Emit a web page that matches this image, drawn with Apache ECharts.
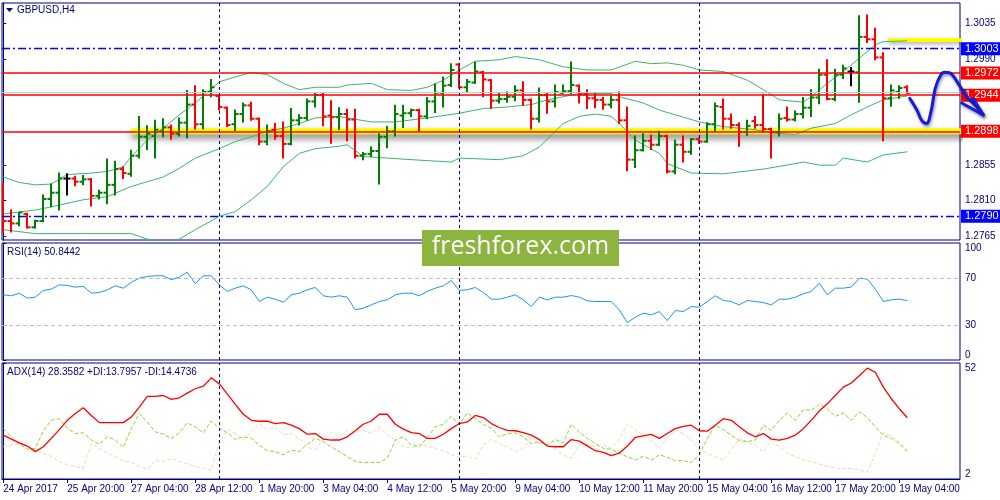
<!DOCTYPE html>
<html><head><meta charset="utf-8">
<script src="https://cdn.jsdelivr.net/npm/echarts@6/dist/echarts.min.js"></script>
<style>html,body{margin:0;padding:0;background:#fff}#chart{width:1000px;height:500px}</style>
</head><body><div id="chart"></div>
<script>
// ---------- DATA ----------
const tickBars = [0,8,16,24,32,40,48,56,64,72,80,88,96,104,112];
const tickLabels = ['24 Apr 2017','25 Apr 20:00','27 Apr 04:00','28 Apr 12:00','1 May 20:00','3 May 04:00','4 May 12:00','5 May 20:00','9 May 04:00','10 May 12:00','11 May 20:00','15 May 04:00','16 May 12:00','17 May 20:00','19 May 04:00'];
const weekSeparators = [27, 57, 87];

const barOpen = [
1.2815,1.2784,1.2781,1.2793,1.2776,1.2784,1.2812,1.2820,1.2838,1.2838,
1.2834,1.2837,1.2816,1.2820,1.2830,1.2850,1.2844,1.2867,1.2891,1.2892,
1.2898,1.2903,1.2895,1.2909,1.2932,1.2907,1.2948,1.2943,1.2928,1.2907,
1.2920,1.2931,1.2914,1.2885,1.2900,1.2892,1.2882,1.2912,1.2915,1.2936,
1.2944,1.2918,1.2916,1.2920,1.2913,1.2867,1.2869,1.2873,1.2891,1.2898,
1.2918,1.2921,1.2925,1.2917,1.2936,1.2947,1.2957,1.2983,1.2954,1.2960,
1.2973,1.2963,1.2937,1.2939,1.2942,1.2950,1.2938,1.2914,1.2944,1.2936,
1.2947,1.2949,1.2956,1.2945,1.2940,1.2938,1.2932,1.2938,1.2912,1.2862,
1.2874,1.2886,1.2881,1.2892,1.2847,1.2881,1.2872,1.2888,1.2885,1.2907,
1.2929,1.2914,1.2906,1.2897,1.2911,1.2906,1.2901,1.2897,1.2915,1.2913,
1.2920,1.2928,1.2941,1.2970,1.2939,1.2970,1.2974,1.2973,1.3018,1.3015,
1.2992,1.2940,1.2948,1.2954];
const barHigh = [
1.2832,1.2798,1.2795,1.2794,1.2785,1.2817,1.2831,1.2845,1.2844,1.2841,
1.2842,1.2838,1.2823,1.2863,1.2860,1.2853,1.2874,1.2917,1.2905,1.2912,
1.2914,1.2906,1.2915,1.2950,1.2956,1.2951,1.2964,1.2944,1.2929,1.2925,
1.2934,1.2935,1.2915,1.2906,1.2908,1.2910,1.2927,1.2919,1.2939,1.2947,
1.2946,1.2937,1.2928,1.2926,1.2926,1.2871,1.2878,1.2895,1.2904,1.2931,
1.2931,1.2926,1.2926,1.2941,1.2958,1.2967,1.2984,1.2984,1.2964,1.2986,
1.2974,1.2964,1.2947,1.2948,1.2956,1.2961,1.2939,1.2953,1.2946,1.2957,
1.2957,1.2986,1.2957,1.2951,1.2946,1.2941,1.2943,1.2948,1.2929,1.2892,
1.2895,1.2893,1.2898,1.2893,1.2887,1.2892,1.2889,1.2890,1.2909,1.2934,
1.2939,1.2920,1.2909,1.2912,1.2917,1.2945,1.2902,1.2920,1.2929,1.2924,
1.2941,1.2951,1.2977,1.2989,1.2977,1.2982,1.2979,1.3045,1.3046,1.3029,
1.2998,1.2957,1.2956,1.2956];
const barLow = [
1.2770,1.2770,1.2778,1.2775,1.2775,1.2783,1.2802,1.2798,1.2817,1.2829,
1.2830,1.2803,1.2812,1.2806,1.2817,1.2838,1.2841,1.2864,1.2875,1.2864,
1.2891,1.2888,1.2892,1.2890,1.2901,1.2901,1.2942,1.2925,1.2904,1.2899,
1.2910,1.2912,1.2881,1.2881,1.2888,1.2864,1.2881,1.2906,1.2912,1.2929,
1.2905,1.2883,1.2900,1.2886,1.2864,1.2862,1.2866,1.2831,1.2877,1.2892,
1.2903,1.2917,1.2898,1.2914,1.2922,1.2929,1.2955,1.2953,1.2948,1.2959,
1.2942,1.2927,1.2934,1.2935,1.2937,1.2931,1.2901,1.2910,1.2921,1.2929,
1.2946,1.2946,1.2934,1.2927,1.2928,1.2926,1.2928,1.2908,1.2848,1.2852,
1.2873,1.2875,1.2880,1.2845,1.2844,1.2859,1.2869,1.2883,1.2884,1.2898,
1.2901,1.2902,1.2879,1.2893,1.2902,1.2897,1.2864,1.2892,1.2911,1.2911,
1.2915,1.2917,1.2933,1.2938,1.2937,1.2965,1.2956,1.2935,1.3011,1.2989,
1.2886,1.2930,1.2940,1.2946];
const barClose = [
1.2784,1.2781,1.2795,1.2776,1.2784,1.2812,1.2820,1.2838,1.2838,1.2834,
1.2837,1.2816,1.2820,1.2830,1.2850,1.2845,1.2867,1.2891,1.2895,1.2900,
1.2903,1.2895,1.2909,1.2932,1.2907,1.2948,1.2954,1.2929,1.2906,1.2920,
1.2931,1.2914,1.2885,1.2898,1.2892,1.2882,1.2912,1.2915,1.2936,1.2944,
1.2917,1.2916,1.2920,1.2913,1.2867,1.2869,1.2873,1.2891,1.2898,1.2920,
1.2921,1.2925,1.2917,1.2936,1.2947,1.2956,1.2976,1.2954,1.2961,1.2974,
1.2964,1.2937,1.2939,1.2942,1.2950,1.2938,1.2914,1.2944,1.2936,1.2948,
1.2949,1.2957,1.2945,1.2940,1.2938,1.2932,1.2938,1.2912,1.2862,1.2874,
1.2886,1.2881,1.2892,1.2847,1.2881,1.2872,1.2888,1.2885,1.2907,1.2930,
1.2914,1.2906,1.2897,1.2905,1.2906,1.2901,1.2897,1.2914,1.2913,1.2920,
1.2928,1.2941,1.2970,1.2939,1.2970,1.2978,1.2974,1.3018,1.3015,1.2992,
1.2940,1.2950,1.2953,1.2947];

const bbUpper = [[0,1.2840],[2,1.2833],[4,1.2830],[6,1.2831],[8,1.2843],[11,1.2845],[13,1.2847],[15,1.2853],[16,1.2866],[18,1.2887],[20,1.2902],[22,1.2919],[24,1.2934],[26,1.2952],[27,1.2961],[29,1.2967],[31,1.2973],[33,1.2970],[35,1.2959],[37,1.2951],[39,1.2954],[42,1.2954],[43,1.2957],[46,1.2959],[48,1.2951],[51,1.2950],[53,1.2954],[55,1.2963],[57,1.2976],[59,1.2987],[62,1.2989],[64,1.2993],[67,1.2989],[70,1.2980],[73,1.2976],[76,1.2976],[79,1.2987],[81,1.2984],[83,1.2985],[85,1.2982],[87,1.2976],[90,1.2974],[93,1.2963],[95,1.2951],[97,1.2938],[100,1.2935],[101,1.2942],[103,1.2959],[105,1.2974],[107,1.2991],[109,1.3008],[110,1.3012],[113,1.3013]];
const bbMiddle = [[0,1.2793],[4,1.2798],[6,1.2802],[10,1.2811],[13,1.2815],[16,1.2828],[18,1.2834],[20,1.2840],[22,1.2851],[24,1.2864],[27,1.2876],[29,1.2885],[31,1.2891],[33,1.2898],[35,1.2902],[37,1.2908],[39,1.2915],[42,1.2917],[43,1.2915],[46,1.2910],[49,1.2910],[53,1.2915],[57,1.2921],[60,1.2927],[63,1.2929],[66,1.2932],[68,1.2938],[70,1.2942],[72,1.2946],[76,1.2946],[77,1.2942],[80,1.2934],[82,1.2925],[84,1.2919],[87,1.2910],[90,1.2904],[94,1.2900],[96,1.2896],[99,1.2894],[101,1.2902],[104,1.2908],[106,1.2919],[108,1.2929],[110,1.2938],[113,1.2943]];
const bbLower = [[0,1.2773],[4,1.2768],[10,1.2768],[16,1.2768],[18,1.2761],[20,1.2757],[22,1.2761],[24,1.2773],[27,1.2790],[29,1.2796],[31,1.2811],[33,1.2828],[35,1.2853],[37,1.2870],[39,1.2876],[42,1.2879],[43,1.2881],[45,1.2866],[48,1.2864],[51,1.2862],[56,1.2859],[57,1.2864],[62,1.2862],[65,1.2867],[67,1.2878],[70,1.2908],[72,1.2917],[74,1.2920],[76,1.2917],[77,1.2908],[79,1.2887],[82,1.2870],[83,1.2857],[84,1.2853],[86,1.2845],[90,1.2844],[95,1.2850],[99,1.2857],[100,1.2859],[102,1.2855],[104,1.2855],[105,1.2864],[108,1.2859],[110,1.2868],[113,1.2872]];

const redLevels = [1.2972, 1.2944, 1.2898];
const blueLevels = [1.3003, 1.2790];
const bidPrice = 1.2948;
const supportBand = [[16, 1.2898], [125, 1.2898]];
const resistanceBand = [[110.6, 1.3014], [125, 1.3014]];
const forecastPath = [[113.3,1.2940],[114.2,1.2925],[114.8,1.2912],[115.4,1.2908],[116.0,1.2925],[116.5,1.2953],[117.2,1.2970],[117.7,1.2973],[118.5,1.2971],[119.6,1.2955],[120.6,1.2940],[121.7,1.2929],[122.5,1.2919]];
const forecastHead = [[119.8,1.2934],[122.5,1.2919],[121.2,1.2940]];
const priceTicks = [1.2765, 1.2810, 1.2855, 1.2990, 1.3035];

const rsi = [
55.7,54.9,57.1,52.9,53.7,59.4,60.6,64.3,63.7,62.3,
62.9,57.1,57.7,60.0,63.4,61.4,66.3,70.0,71.4,72.0,
72.0,68.6,70.9,75.1,65.1,72.0,72.0,64.3,58.6,61.4,
63.4,60.0,50.0,53.7,52.0,49.4,55.7,57.1,60.0,62.0,
54.9,53.7,54.9,53.7,42.9,44.3,47.1,50.0,51.4,55.7,
57.1,57.1,54.9,58.6,61.4,63.4,68.0,59.4,60.0,62.0,
57.7,52.0,52.0,53.7,55.7,51.4,45.7,53.7,51.4,53.7,
53.7,55.1,53.7,50.6,50.0,50.0,50.0,42.9,32.0,36.6,
40.0,38.6,41.4,33.7,42.3,41.4,45.7,45.1,50.0,54.9,
50.9,50.0,47.1,50.9,50.0,49.1,47.1,52.0,52.0,53.7,
56.6,58.6,65.7,55.7,61.4,61.4,62.3,70.0,69.1,60.6,
50.0,51.4,52.0,50.8];
const rsiLevels = [70, 30];

const adx = [
20.9,19.2,17.6,16.2,13.8,15.9,19.5,23.3,27.3,30.2,
32.7,29.4,26.3,26.3,26.3,26.3,28.7,33.0,37.6,37.6,
38.0,36.3,37.0,39.0,40.9,42.0,45.6,43.0,38.7,34.2,
29.9,27.3,26.9,26.9,25.9,26.3,25.2,23.7,21.3,21.6,
19.2,18.8,18.8,20.2,22.8,25.6,27.0,29.9,29.9,25.6,
23.5,22.0,21.6,19.5,19.5,21.3,23.7,25.9,26.6,29.4,
28.5,25.9,24.2,23.0,22.8,22.0,20.9,19.0,16.2,15.9,
15.9,19.0,18.3,16.3,14.2,13.5,12.1,13.1,16.2,19.9,
20.6,21.2,19.5,21.6,23.7,24.7,25.2,22.8,22.6,25.2,
28.0,27.3,24.5,21.9,20.2,21.6,19.2,18.8,19.5,20.9,
23.7,27.3,31.3,34.4,38.0,41.6,43.4,46.5,49.8,48.0,
41.6,36.6,32.3,28.4];
const plusDI = [
23.8,20.2,17.0,14.8,15.2,22.8,27.3,28.0,23.8,21.6,
21.9,18.8,17.0,20.2,18.8,15.6,23.8,30.2,26.6,22.3,
21.3,19.5,21.9,26.2,24.5,21.9,27.0,23.8,22.0,19.0,
20.2,19.5,16.6,14.2,13.8,12.4,14.5,13.8,17.0,19.5,
18.1,15.9,13.8,11.6,9.5,9.1,9.1,9.1,10.9,18.8,
20.2,16.6,15.9,19.9,24.5,25.6,29.0,25.6,30.5,28.0,
25.6,23.8,20.2,21.6,21.9,20.2,17.3,18.1,16.6,19.0,
17.6,25.6,22.3,19.5,17.3,15.2,14.8,13.1,11.6,10.2,
11.9,10.2,12.4,11.4,9.9,9.9,9.1,12.4,19.5,25.2,
23.3,20.9,18.5,18.1,18.8,25.2,23.0,27.3,30.5,27.3,
31.9,31.6,34.2,32.3,29.0,30.5,27.3,30.9,28.5,24.5,
20.9,19.5,17.3,13.8];
const minusDI = [
16.0,16.6,17.3,16.2,14.5,13.1,11.6,9.5,8.1,7.4,
6.6,17.3,15.2,13.1,11.6,9.9,9.1,7.6,6.2,10.2,
9.5,10.9,9.5,8.5,7.4,6.6,5.9,18.1,23.3,21.6,
19.0,22.3,25.9,23.3,24.5,20.9,21.6,19.5,15.9,14.5,
19.0,22.3,20.5,23.0,22.3,23.0,21.6,24.5,20.9,18.8,
16.2,15.2,17.0,16.2,15.2,14.2,12.4,11.4,12.0,10.5,
16.6,19.0,17.3,15.9,13.8,15.2,19.9,17.3,17.0,14.8,
12.4,10.9,16.6,17.0,15.9,16.6,15.2,19.0,25.9,23.3,
20.9,18.1,15.6,19.9,23.0,21.6,19.0,14.5,13.1,11.6,
10.2,14.5,19.5,18.1,16.6,13.8,18.5,15.9,13.1,11.6,
10.2,9.5,8.5,7.4,6.6,6.6,6.5,5.9,4.9,13.1,
21.9,20.5,18.1,14.5];

// ---------- CHART ----------
const navy = '#000080';
const X_MIN = -0.1625, X_MAX = 119.5875, X_MAX_FULL = 124.5875;
const P_MIN = 1.27599, P_MAX = 1.30611;
const chart = echarts.init(document.getElementById('chart'), null, {renderer: 'canvas'});

const ohlc = barOpen.map((o, i) => [i, o, barHigh[i], barLow[i], barClose[i]]);
const idxPairs = arr => arr.map((v, i) => [i, v]);

function sepLines() {
  return weekSeparators.map(x => ({xAxis: x, lineStyle: {color: navy, type: [3, 3], width: 1}, label: {show: false}}));
}
function levelLine(price, color, type, width, bg) {
  return {
    yAxis: price,
    lineStyle: {color: color, type: type, width: width, opacity: 1},
    label: bg ? {show: true, position: 'end', formatter: price.toFixed(4), backgroundColor: bg, color: '#fff',
                 padding: [1, 4, 0, 4], fontSize: 11, lineHeight: 12, distance: 1, fontFamily: 'Liberation Sans'} : {show: false}
  };
}
const gridBase = {show: true, borderColor: navy, borderWidth: 1, backgroundColor: 'transparent', outerBoundsMode: 'none', containLabel: false};
function hiddenX(gi, max) {
  return {type: 'value', gridIndex: gi, min: X_MIN, max: max, show: false, splitLine: {show: false}};
}
const axisLblStyle = {color: navy, fontSize: 10, fontFamily: 'Liberation Sans'};
const arrowStyle = {color: '#1A1AD0', width: 3, cap: 'round', join: 'round',
                    shadowColor: 'rgba(0,0,80,0.45)', shadowBlur: 3, shadowOffsetX: 1, shadowOffsetY: 2};

const option = {
  animation: false,
  backgroundColor: '#ffffff',
  textStyle: {fontFamily: 'Liberation Sans'},
  grid: [
    Object.assign({left: 2, top: 3, width: 958, height: 237}, gridBase),
    Object.assign({left: 2, top: 243, width: 958, height: 117}, gridBase),
    Object.assign({left: 2, top: 363, width: 958, height: 116}, gridBase),
    {left: 2, top: 3, width: 998, height: 237, show: false, outerBoundsMode: 'none', containLabel: false}
  ],
  xAxis: [
    hiddenX(0, X_MAX), hiddenX(1, X_MAX),
    {type: 'value', gridIndex: 2, min: X_MIN, max: X_MAX, splitLine: {show: false},
     axisLine: {show: true, lineStyle: {color: navy}},
     axisTick: {show: true, customValues: tickBars, length: 4, lineStyle: {color: navy}},
     axisLabel: Object.assign({customValues: tickBars, align: 'left', margin: 5,
       formatter: v => { const k = tickBars.indexOf(Math.round(v)); return k >= 0 ? tickLabels[k] : ''; }}, axisLblStyle)},
    hiddenX(3, X_MAX_FULL)
  ],
  yAxis: [
    {type: 'value', gridIndex: 0, position: 'right', min: P_MIN, max: P_MAX, splitLine: {show: false},
     axisLine: {show: true, lineStyle: {color: navy}},
     axisTick: {show: true, customValues: priceTicks, length: 3, lineStyle: {color: navy}},
     axisLabel: Object.assign({customValues: priceTicks, margin: 5, formatter: v => v.toFixed(4)}, axisLblStyle)},
    {type: 'value', gridIndex: 1, position: 'right', min: 0, max: 100, splitLine: {show: false},
     axisLine: {show: true, lineStyle: {color: navy}},
     axisTick: {show: true, customValues: [0, 30, 70, 100], length: 3, lineStyle: {color: navy}},
     axisLabel: Object.assign({customValues: [0, 30, 70, 100], margin: 5,
       verticalAlignMinLabel: 'bottom', verticalAlignMaxLabel: 'top'}, axisLblStyle)},
    {type: 'value', gridIndex: 2, position: 'right', min: 2, max: 52, splitLine: {show: false},
     axisLine: {show: true, lineStyle: {color: navy}},
     axisTick: {show: true, customValues: [2, 52], length: 3, lineStyle: {color: navy}},
     axisLabel: Object.assign({customValues: [2, 52], margin: 5,
       verticalAlignMinLabel: 'bottom', verticalAlignMaxLabel: 'top'}, axisLblStyle)},
    {type: 'value', gridIndex: 3, min: P_MIN, max: P_MAX, show: false, splitLine: {show: false}}
  ],
  series: [
    // highlighted zones (under bars)
    {type: 'line', name: 'supportBand', xAxisIndex: 0, yAxisIndex: 0, data: supportBand, symbol: 'none', z: 1,
     lineStyle: {color: '#FFFF00', width: 6, shadowColor: 'rgba(0,0,0,0.55)', shadowBlur: 7, shadowOffsetY: 4}},
    {type: 'line', name: 'resistanceBand', xAxisIndex: 0, yAxisIndex: 0, data: resistanceBand, symbol: 'none', z: 1,
     lineStyle: {color: '#FFFF00', width: 4, shadowColor: 'rgba(0,0,0,0.35)', shadowBlur: 4, shadowOffsetY: 2}},
    // Bollinger bands + horizontal levels
    {type: 'line', name: 'bbUpper', xAxisIndex: 0, yAxisIndex: 0, data: bbUpper, symbol: 'none', z: 2,
     lineStyle: {color: '#3CB371', width: 1}},
    {type: 'line', name: 'bbLower', xAxisIndex: 0, yAxisIndex: 0, data: bbLower, symbol: 'none', z: 2,
     lineStyle: {color: '#3CB371', width: 1}},
    {type: 'line', name: 'bbMiddle', xAxisIndex: 0, yAxisIndex: 0, data: bbMiddle, symbol: 'none', z: 2,
     lineStyle: {color: '#3CB371', width: 1},
     markLine: {silent: true, symbol: ['none', 'none'], animation: false, precision: 6,
       data: [
         levelLine(bidPrice, '#C8C8C8', 'solid', 1.2, null),
         levelLine(redLevels[0], '#FF0000', 'solid', 1.5, '#FF0000'),
         levelLine(redLevels[1], '#FF0000', 'solid', 1.5, '#FF0000'),
         levelLine(redLevels[2], '#FF0000', 'solid', 1.5, '#FF0000'),
         levelLine(blueLevels[0], '#0000FF', [8, 3, 2, 3], 1.3, '#0000FF'),
         levelLine(blueLevels[1], '#0000FF', [8, 3, 2, 3], 1.3, '#0000FF')
       ].concat(sepLines())}},
    // OHLC bars
    {type: 'custom', name: 'GBPUSD', xAxisIndex: 0, yAxisIndex: 0, data: ohlc, z: 3, clip: true,
     encode: {x: 0, y: [1, 2, 3, 4]},
     renderItem: function (params, api) {
       const i = api.value(0), o = api.value(1), h = api.value(2), l = api.value(3), c = api.value(4);
       const pH = api.coord([i, h]), pL = api.coord([i, l]), pO = api.coord([i, o]), pC = api.coord([i, c]);
       const col = c > o ? '#008000' : (c < o ? '#FF0000' : '#000000');
       const x = Math.round(pH[0]);
       const st = {stroke: col, lineWidth: 2};
       return {type: 'group', children: [
         {type: 'line', shape: {x1: x, y1: pH[1] - 0.5, x2: x, y2: pL[1] + 0.5}, style: st},
         {type: 'line', shape: {x1: x - 3.5, y1: pO[1], x2: x, y2: pO[1]}, style: st},
         {type: 'line', shape: {x1: x, y1: pC[1], x2: x + 3.5, y2: pC[1]}, style: st}
       ]};
     }},
    // hand-drawn forecast arrow (overlay grid that also covers the price-scale strip)
    {type: 'line', name: 'forecast', xAxisIndex: 3, yAxisIndex: 3, data: forecastPath, symbol: 'none', z: 20,
     smooth: 0.35, lineStyle: arrowStyle},
    {type: 'line', name: 'forecastHead', xAxisIndex: 3, yAxisIndex: 3, data: forecastHead, symbol: 'none', z: 20,
     lineStyle: arrowStyle},
    // RSI
    {type: 'line', name: 'RSI', xAxisIndex: 1, yAxisIndex: 1, data: idxPairs(rsi), symbol: 'none', z: 3,
     lineStyle: {color: '#1E90FF', width: 1},
     markLine: {silent: true, symbol: ['none', 'none'], animation: false, precision: 4,
       data: rsiLevels.map(v => ({yAxis: v, lineStyle: {color: '#C0C0C0', type: [4, 3], width: 1}, label: {show: false}})).concat(sepLines())}},
    // ADX
    {type: 'line', name: '-DI', xAxisIndex: 2, yAxisIndex: 2, data: idxPairs(minusDI), symbol: 'none', z: 2,
     lineStyle: {color: '#F5D9A8', width: 1, type: [4, 2]}},
    {type: 'line', name: '+DI', xAxisIndex: 2, yAxisIndex: 2, data: idxPairs(plusDI), symbol: 'none', z: 2,
     lineStyle: {color: '#9ACD32', width: 1, type: [4, 2]}},
    {type: 'line', name: 'ADX', xAxisIndex: 2, yAxisIndex: 2, data: idxPairs(adx), symbol: 'none', z: 3,
     lineStyle: {color: '#FF0000', width: 1.3},
     markLine: {silent: true, symbol: ['none', 'none'], animation: false, precision: 4, data: sepLines()}}
  ],
  graphic: [
    {type: 'polygon', shape: {points: [[6, 8], [13, 8], [9.5, 12]]}, style: {fill: navy}, z: 50},
    {type: 'text', x: 17, y: 10, style: {text: 'GBPUSD,H4', fill: navy, font: '10px "Liberation Sans"', verticalAlign: 'middle'}, z: 50},
    {type: 'text', x: 7, y: 252, style: {text: 'RSI(14) 50.8442', fill: navy, font: '10px "Liberation Sans"', verticalAlign: 'middle'}, z: 50},
    {type: 'text', x: 7, y: 372, style: {text: 'ADX(14) 28.3582 +DI:13.7957 -DI:14.4736', fill: navy, font: '10px "Liberation Sans"', verticalAlign: 'middle'}, z: 50},
    {type: 'group', z: 60, children: [
      {type: 'rect', shape: {x: 422, y: 230, width: 197, height: 36}, style: {fill: '#8CB43E'}, z: 60},
      {type: 'text', x: 520.5, y: 247, style: {text: 'freshforex.com', fill: '#ffffff', font: '25px "Open Sans"', align: 'center', verticalAlign: 'middle'}, z: 61}
    ]}
  ]
};
chart.setOption(option);
</script></body></html>
